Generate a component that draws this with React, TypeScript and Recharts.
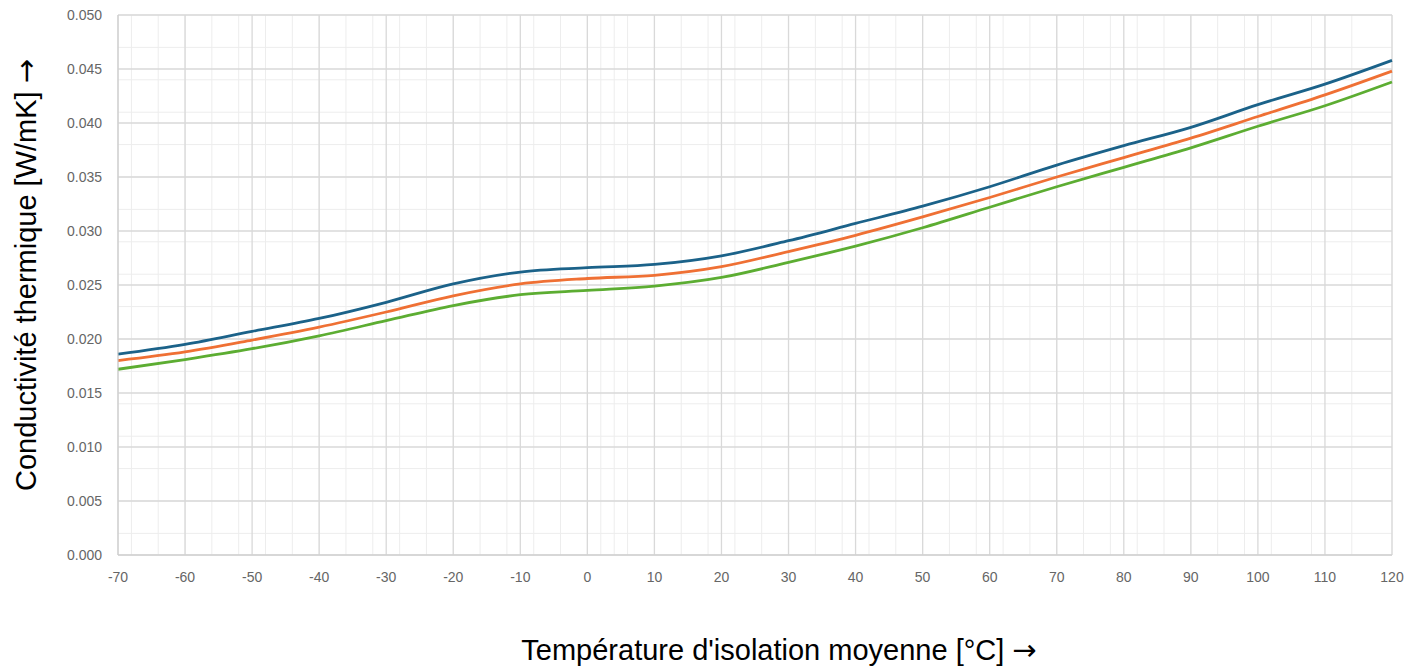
import { CartesianGrid, Label, Line, LineChart, XAxis, YAxis } from "recharts";

const temps = [-70, -60, -50, -40, -30, -20, -10, 0, 10, 20, 30, 40, 50, 60, 70, 80, 90, 100, 110, 120];
const lambdaHigh = [0.0186, 0.0195, 0.0207, 0.0219, 0.0234, 0.0251, 0.0262, 0.0266, 0.0269, 0.0277, 0.0291, 0.0307, 0.0323, 0.0341, 0.0361, 0.0379, 0.0396, 0.0417, 0.0436, 0.0458];
const lambdaMid = [0.018, 0.0188, 0.0199, 0.0211, 0.0225, 0.024, 0.0251, 0.0256, 0.0259, 0.0267, 0.0281, 0.0296, 0.0313, 0.0331, 0.035, 0.0368, 0.0386, 0.0406, 0.0426, 0.0448];
const lambdaLow = [0.0172, 0.0181, 0.0191, 0.0203, 0.0217, 0.0231, 0.0241, 0.0245, 0.0249, 0.0257, 0.0271, 0.0286, 0.0303, 0.0322, 0.0341, 0.0359, 0.0377, 0.0397, 0.0416, 0.0438];

const xTicks = [-70, -60, -50, -40, -30, -20, -10, 0, 10, 20, 30, 40, 50, 60, 70, 80, 90, 100, 110, 120];
const yTicks = [0, 0.005, 0.01, 0.015, 0.02, 0.025, 0.03, 0.035, 0.04, 0.045, 0.05];
const xMinor = Array.from({ length: 96 }, (_, i) => -70 + i * 2);
const yMinor = Array.from({ length: 51 }, (_, i) => i * 0.001);

const data = temps.map((t, i) => ({
  t,
  high: lambdaHigh[i],
  mid: lambdaMid[i],
  low: lambdaLow[i],
}));

const font = "Arial, 'Liberation Sans', sans-serif";
const arrowFont = "'DejaVu Sans', sans-serif";

export default function App() {
  return (
    <div style={{ position: "absolute", left: 0, top: 0 }}>
      <LineChart width={1418} height={668} data={data} margin={{ top: 15, right: 26, left: 0, bottom: 0 }}>
        <CartesianGrid stroke="#ededed" strokeWidth={1} verticalValues={xMinor} horizontalValues={yMinor} />
        <CartesianGrid stroke="#d9d9d9" strokeWidth={1.3} verticalValues={xTicks} horizontalValues={yTicks} fill="none" />
        <XAxis
          dataKey="t"
          type="number"
          domain={[-70, 120]}
          ticks={xTicks}
          height={113}
          tickLine={false}
          tickSize={8}
          tickMargin={9}
          stroke="#cccccc"
          tick={{ fill: "#666", fontSize: 14, fontFamily: font }}
        >
          <Label
            content={({ viewBox }: any) => (
              <text
                x={viewBox.x + viewBox.width / 2 + 24}
                y={viewBox.y + 105}
                textAnchor="middle"
                fontSize={29}
                fontFamily={font}
                fill="#000"
              >
                Température d'isolation moyenne [°C] <tspan fontFamily={arrowFont}>→</tspan>
              </text>
            )}
          />
        </XAxis>
        <YAxis
          type="number"
          domain={[0, 0.05]}
          ticks={yTicks}
          width={118}
          tickLine={false}
          tickSize={6}
          tickMargin={10}
          stroke="#cccccc"
          tickFormatter={(v) => Number(v).toFixed(3)}
          tick={{ fill: "#666", fontSize: 14, fontFamily: font }}
        >
          <Label
            content={({ viewBox }: any) => {
              const x = viewBox.x + 36;
              const y = viewBox.y + viewBox.height / 2 - 10;
              return (
                <text
                  x={x}
                  y={y}
                  transform={`rotate(-90 ${x} ${y})`}
                  textAnchor="middle"
                  fontSize={29}
                  fontFamily={font}
                  fill="#000"
                >
                  Conductivité thermique [W/mK] <tspan fontFamily={arrowFont}>→</tspan>
                </text>
              );
            }}
          />
        </YAxis>
        <Line type="monotone" dataKey="high" stroke="#1b6289" strokeWidth={2.8} dot={false} isAnimationActive={false} />
        <Line type="monotone" dataKey="mid" stroke="#ef7034" strokeWidth={2.8} dot={false} isAnimationActive={false} />
        <Line type="monotone" dataKey="low" stroke="#5cad32" strokeWidth={2.8} dot={false} isAnimationActive={false} />
      </LineChart>
    </div>
  );
}
